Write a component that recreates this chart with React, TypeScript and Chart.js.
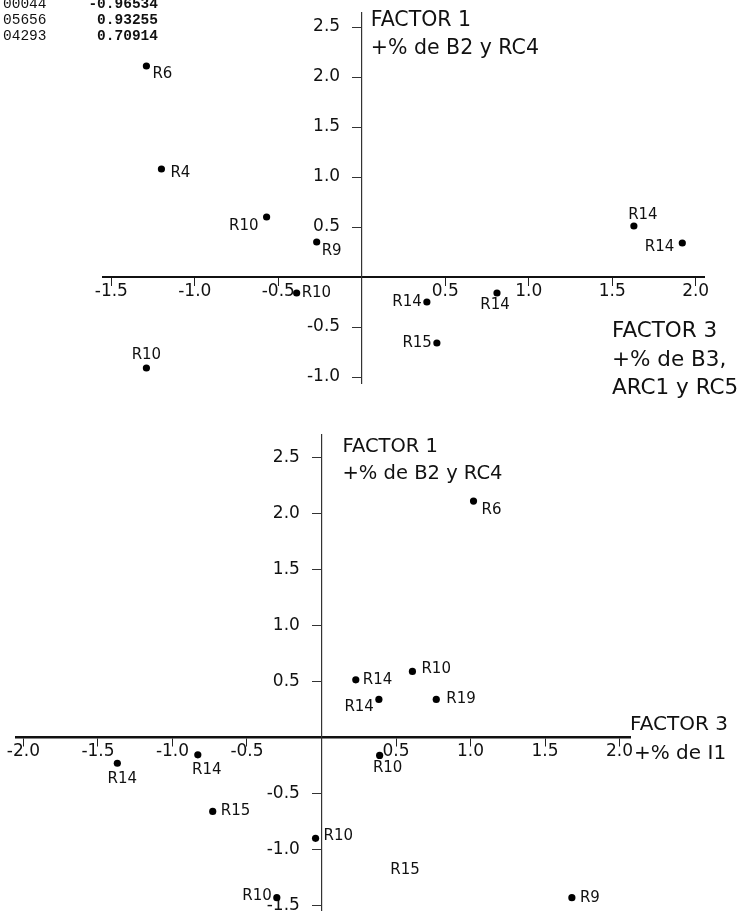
import React, { useEffect, useRef } from 'react';
import { Chart, registerables } from 'chart.js';

Chart.register(...registerables);

// ---------- Top chart data ----------
const topLabels = ['R6', 'R4', 'R10', 'R9', 'R10', 'R10', 'R14', 'R15', 'R14', 'R14', 'R14'];
const topX = [-1.29, -1.2, -0.57, -0.27, -0.39, -1.29, 0.39, 0.45, 0.81, 1.63, 1.92];
const topY = [2.11, 1.08, 0.6, 0.35, -0.16, -0.91, -0.25, -0.66, -0.16, 0.51, 0.34];
const topXTicks = [-1.5, -1.0, -0.5, 0.5, 1.0, 1.5, 2.0];
const topYTicks = [2.5, 2.0, 1.5, 1.0, 0.5, -0.5, -1.0];

// ---------- Bottom chart data ----------
const botLabels = ['R6', 'R14', 'R10', 'R14', 'R19', 'R10', 'R15', 'R9', 'R14', 'R14', 'R15', 'R10', 'R10'];
const botX = [1.02, 0.23, 0.61, 0.385, 0.77, 0.39, 0.56, 1.68, -1.37, -0.83, -0.73, -0.04, -0.3];
const botY = [2.11, 0.515, 0.59, 0.34, 0.34, -0.16, -1.18, -1.43, -0.23, -0.155, -0.66, -0.9, -1.43];
const botXTicks = [-2.0, -1.5, -1.0, -0.5, 0.5, 1.0, 1.5, 2.0];
const botYTicks = [2.5, 2.0, 1.5, 1.0, 0.5, -0.5, -1.0, -1.5];

// ---------- Header table fragment ----------
const headCodes = ['00044', '05656', '04293'];
const headValues = ['-0.96534', '0.93255', '0.70914'];

// ---------- Styles (label placement: align, dx, dy) ----------
type Place = [CanvasTextAlign, number, number];
const topPlace: Place[] = [
  ['left', 6, 8], ['left', 9, 4], ['right', -8, 9], ['left', 5, 9], ['left', 5, 0],
  ['center', 0, -13], ['right', -5, 0], ['right', -5, 0], ['center', -2, 12],
  ['center', 9, -11], ['right', -8, 4],
];
const botPlace: Place[] = [
  ['left', 8, 9], ['left', 7, 0], ['left', 9, -2], ['right', -5, 8], ['left', 10, 0],
  ['center', 8, 13], ['center', 0, 0], ['left', 8, 0], ['center', 5, 16], ['center', 9, 15],
  ['left', 8, 0], ['left', 8, -2], ['right', -5, -2],
];
const botRadius = botLabels.map((_, i) => (i === 6 ? 0 : 3.6));

const FONT = "'DejaVu Sans', 'Noto Sans', sans-serif";
const MONO = "'Liberation Mono', 'DejaVu Sans Mono', monospace";

type TextItem = {
  text: string; x: number; y: number; font: string;
  align?: CanvasTextAlign; baseline?: CanvasTextBaseline; fromAxis?: boolean;
};

function pointLabelPlugin(labels: string[], places: Place[]) {
  return {
    id: 'pointLabels',
    afterDatasetsDraw(chart: any) {
      const meta = chart.getDatasetMeta(0);
      const ctx = chart.ctx as CanvasRenderingContext2D;
      ctx.save();
      ctx.font = `15px ${FONT}`;
      ctx.fillStyle = '#111';
      ctx.textBaseline = 'middle';
      meta.data.forEach((pt: any, i: number) => {
        const [align, dx, dy] = places[i];
        ctx.textAlign = align;
        ctx.fillText(labels[i], pt.x + dx, pt.y + dy);
      });
      ctx.restore();
    },
  };
}

function textPlugin(items: TextItem[]) {
  return {
    id: 'overlayText',
    afterDraw(chart: any) {
      const ctx = chart.ctx as CanvasRenderingContext2D;
      const x0 = chart.scales.x.getPixelForValue(0);
      ctx.save();
      ctx.fillStyle = '#111';
      items.forEach((it) => {
        ctx.font = it.font;
        ctx.textAlign = it.align || 'left';
        ctx.textBaseline = it.baseline || 'middle';
        ctx.fillText(it.text, it.fromAxis ? x0 + it.x : it.x, it.y);
      });
      ctx.restore();
    },
  };
}

function makeOptions(
  xMin: number, xMax: number, yMin: number, yMax: number,
  xTicks: number[], yTicks: number[],
  padding: { left: number; right: number; top: number; bottom: number },
  xBorder: number,
) {
  const fmt = (v: any) => Number(v).toFixed(1);
  return {
    responsive: false,
    animation: false as const,
    events: [] as any[],
    layout: { padding },
    plugins: { legend: { display: false }, tooltip: { enabled: false } },
    scales: {
      x: {
        type: 'linear' as const,
        position: { y: 0 },
        min: xMin,
        max: xMax,
        afterBuildTicks: (s: any) => { s.ticks = xTicks.map((value) => ({ value })); },
        grid: { drawOnChartArea: false, drawTicks: true, tickLength: 8, tickColor: '#222', tickWidth: 1 },
        border: { display: true, color: '#111', width: xBorder },
        ticks: { autoSkip: false, maxRotation: 0, padding: -4, color: '#111', font: { family: FONT, size: 17 }, callback: fmt },
      },
      y: {
        type: 'linear' as const,
        position: { x: 0 },
        min: yMin,
        max: yMax,
        afterBuildTicks: (s: any) => { s.ticks = yTicks.map((value) => ({ value })); },
        grid: { drawOnChartArea: false, drawTicks: true, tickLength: 9, tickColor: '#333', tickWidth: 1 },
        border: { display: true, color: '#333', width: 1.2 },
        ticks: { autoSkip: false, padding: 0, color: '#111', font: { family: FONT, size: 17 }, callback: (v: any) => fmt(v) + '    ' },
      },
    },
  };
}

function ScatterPanel(props: {
  width: number; height: number; top: number;
  xs: number[]; ys: number[]; labels: string[]; places: Place[]; radius: number[] | number;
  options: any; texts: TextItem[];
}) {
  const ref = useRef<HTMLCanvasElement | null>(null);
  useEffect(() => {
    if (!ref.current) return;
    const chart = new Chart(ref.current, {
      type: 'scatter',
      data: {
        datasets: [
          {
            data: props.xs.map((x, i) => ({ x, y: props.ys[i] })),
            backgroundColor: '#000',
            borderColor: '#000',
            borderWidth: 0,
            pointRadius: props.radius as any,
            showLine: false,
          },
        ],
      },
      options: props.options,
      plugins: [pointLabelPlugin(props.labels, props.places), textPlugin(props.texts)],
    });
    return () => chart.destroy();
  }, []);
  return (
    <canvas
      ref={ref}
      width={props.width}
      height={props.height}
      style={{ position: 'absolute', left: 0, top: props.top, width: props.width, height: props.height }}
    />
  );
}

const topTexts: TextItem[] = [
  { text: 'FACTOR 1', x: 9, y: 21, font: `20.5px ${FONT}`, fromAxis: true },
  { text: '+% de B2 y RC4', x: 9, y: 49, font: `20.5px ${FONT}`, fromAxis: true },
  { text: 'FACTOR 3', x: 612, y: 331, font: `21.5px ${FONT}` },
  { text: '+% de B3,', x: 612, y: 360, font: `21.5px ${FONT}` },
  { text: 'ARC1 y RC5', x: 612, y: 388, font: `21.5px ${FONT}` },
  ...headCodes.map((t, i) => ({ text: t, x: 3, y: 8 + i * 16, font: `14.5px ${MONO}`, baseline: 'alphabetic' as CanvasTextBaseline })),
  ...headValues.map((t, i) => ({ text: t, x: 158, y: 8 + i * 16, font: `bold 14.5px ${MONO}`, align: 'right' as CanvasTextAlign, baseline: 'alphabetic' as CanvasTextBaseline })),
];

const botTexts: TextItem[] = [
  { text: 'FACTOR 1', x: 21, y: 27, font: `19.5px ${FONT}`, fromAxis: true },
  { text: '+% de B2 y RC4', x: 21, y: 54, font: `19.5px ${FONT}`, fromAxis: true },
  { text: 'FACTOR 3', x: 630, y: 305, font: `20px ${FONT}` },
  { text: '+% de I1', x: 634, y: 334, font: `20px ${FONT}` },
];

export default function App() {
  const topOpts = makeOptions(-1.55, 2.05, -1.06, 2.64, topXTicks, topYTicks,
    { left: 103, right: 42, top: 13, bottom: 37 }, 2);
  const botOpts = makeOptions(-2.05, 2.07, -1.54, 2.7, botXTicks, botYTicks,
    { left: 16, right: 116, top: 15, bottom: 11 }, 2.5);
  return (
    <div style={{ position: 'absolute', left: 0, top: 0, width: 746, height: 921, background: '#fff', overflow: 'hidden' }}>
      <ScatterPanel width={746} height={420} top={0} xs={topX} ys={topY} labels={topLabels} places={topPlace}
        radius={3.6} options={topOpts} texts={topTexts} />
      <ScatterPanel width={746} height={501} top={420} xs={botX} ys={botY} labels={botLabels} places={botPlace}
        radius={botRadius} options={botOpts} texts={botTexts} />
    </div>
  );
}
